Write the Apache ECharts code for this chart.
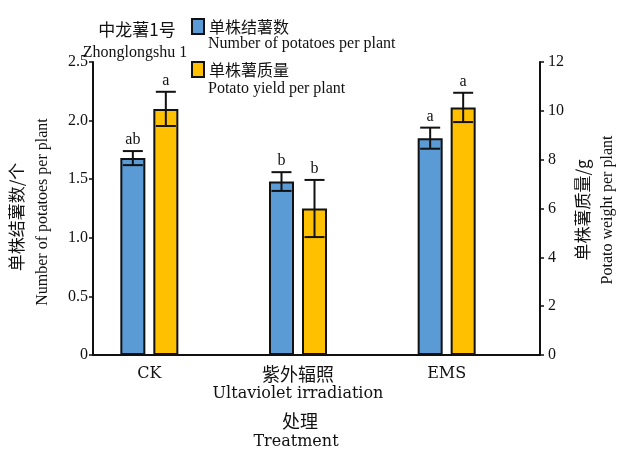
<!DOCTYPE html>
<html>
<head>
<meta charset="utf-8">
<style>
  html, body { margin: 0; padding: 0; background: #fff; }
  #chart { width: 630px; height: 452px; }
</style>
<script src="https://cdn.jsdelivr.net/npm/echarts@6/dist/echarts.min.js"></script>
</head>
<body>
<div id="chart"></div>
<script>
// Treatments on the x axis
const categories = ['CK', '紫外辐照', 'EMS'];
const categoryEnglish = ['', 'Ultaviolet irradiation', ''];

// Tubers per plant (left axis) with standard error and significance letters
const tuberCount = [1.68, 1.48, 1.85];
const tuberCountErr = [0.06, 0.08, 0.09];
const tuberCountSig = ['ab', 'b', 'a'];

// Tuber weight per plant, g (right axis) with standard error and significance letters
const tuberWeight = [10.08, 6.0, 10.14];
const tuberWeightErr = [0.7, 1.17, 0.6];
const tuberWeightSig = ['a', 'b', 'a'];

// Axis ranges
const leftAxis = { min: 0, max: 2.5, interval: 0.5 };
const rightAxis = { min: 0, max: 12, interval: 2 };

const SERIF = "'Liberation Serif', 'Noto Sans CJK SC', serif";
const CJK = "'Noto Sans CJK SC', sans-serif";
const WIDE_SERIF = "'DejaVu Serif', serif";
const INK = '#111';
const BAR_W = 25, BAR_GAP = 8;
const OFFSET = (BAR_W + BAR_GAP) / 2;

function errorSeries(name, values, errs, sig, yIdx, offset) {
  return {
    name: name + '-err',
    type: 'custom',
    xAxisIndex: 1,
    yAxisIndex: yIdx,
    silent: true,
    z: 5,
    data: values.map((v, i) => [i, v - errs[i], v + errs[i]]),
    renderItem: function (params, api) {
      const i = api.value(0);
      const top = api.coord([i, api.value(2)]);
      const bot = api.coord([i, api.value(1)]);
      const x = top[0] + offset;
      const cap = 10;
      const ls = { stroke: INK, lineWidth: 2 };
      return {
        type: 'group',
        children: [
          { type: 'line', shape: { x1: x, y1: top[1], x2: x, y2: bot[1] }, style: ls },
          { type: 'line', shape: { x1: x - cap, y1: top[1], x2: x + cap, y2: top[1] }, style: ls },
          { type: 'line', shape: { x1: x - cap, y1: bot[1], x2: x + cap, y2: bot[1] }, style: ls },
          {
            type: 'text', x: x, y: top[1] - 11,
            style: {
              text: sig[i], fill: INK, font: '16px ' + SERIF,
              align: 'center', verticalAlign: 'middle',
              textAlign: 'center', textVerticalAlign: 'middle'
            }
          }
        ]
      };
    }
  };
}

function textEl(text, x, y, size, family, align, rotate) {
  return {
    type: 'text', x: x, y: y, rotation: rotate ? Math.PI / 2 : 0, silent: true,
    style: {
      text: text, fill: INK, font: size + 'px ' + family,
      align: align, verticalAlign: 'middle',
      textAlign: align, textVerticalAlign: 'middle'
    }
  };
}

const chart = echarts.init(document.getElementById('chart'), null, { renderer: 'canvas' });

const axisLineStyle = { show: true, lineStyle: { color: INK, width: 2 } };

chart.setOption({
  animation: false,
  backgroundColor: '#fff',
  textStyle: { fontFamily: SERIF },
  grid: [
    // frame: axis lines and tick labels
    { left: 93, right: 90, top: 62, bottom: 97, containLabel: false },
    // bars: category bands centred on the treatment groups
    { left: 75, width: 446, top: 62, bottom: 97, containLabel: false }
  ],
  legend: {
    orient: 'vertical',
    left: 186,
    top: 13,
    icon: 'rect',
    itemWidth: 12,
    itemHeight: 15,
    itemGap: 26,
    selectedMode: false,
    data: ['单株结薯数', '单株薯质量'],
    textStyle: { fontSize: 16, color: INK, fontFamily: CJK }
  },
  xAxis: [
    {
      gridIndex: 0, type: 'category', data: [''],
      axisLine: axisLineStyle, axisTick: { show: false }, axisLabel: { show: false },
      splitLine: { show: false }
    },
    {
      gridIndex: 1, type: 'category', data: categories,
      axisLine: { show: false }, axisTick: { show: false },
      axisLabel: {
        interval: 0,
        hideOverlap: false,
        margin: 9,
        color: INK,
        formatter: function (v, i) {
          const en = categoryEnglish[i];
          if (/^[A-Za-z]+$/.test(v)) return '{l|' + v + '}';
          return '{c|' + v + '}' + (en ? '\n{e|' + en + '}' : '');
        },
        rich: {
          l: { fontSize: 16, fontFamily: WIDE_SERIF, color: INK, lineHeight: 20 },
          c: { fontSize: 18, fontFamily: CJK, color: INK, lineHeight: 20 },
          e: { fontSize: 16, fontFamily: WIDE_SERIF, color: INK, lineHeight: 20 }
        }
      }
    }
  ],
  yAxis: [
    {
      gridIndex: 0, type: 'value', position: 'left',
      min: leftAxis.min, max: leftAxis.max, interval: leftAxis.interval,
      axisLine: axisLineStyle,
      axisTick: { show: true, length: 4, lineStyle: { color: INK, width: 1.5 } },
      axisLabel: {
        margin: 5, color: INK, fontSize: 16, fontFamily: SERIF,
        formatter: v => (v === 0 ? '0' : v.toFixed(1))
      },
      splitLine: { show: false }
    },
    {
      gridIndex: 0, type: 'value', position: 'right',
      min: rightAxis.min, max: rightAxis.max, interval: rightAxis.interval,
      axisLine: axisLineStyle,
      axisTick: { show: true, length: 4, lineStyle: { color: INK, width: 1.5 } },
      axisLabel: { margin: 8, color: INK, fontSize: 16, fontFamily: SERIF },
      splitLine: { show: false }
    },
    {
      gridIndex: 1, type: 'value', show: false,
      min: leftAxis.min, max: leftAxis.max, splitLine: { show: false }
    },
    {
      gridIndex: 1, type: 'value', show: false,
      min: rightAxis.min, max: rightAxis.max, splitLine: { show: false }
    }
  ],
  series: [
    {
      name: '单株结薯数', type: 'bar', xAxisIndex: 1, yAxisIndex: 2,
      barWidth: BAR_W, barGap: (BAR_GAP / BAR_W * 100) + '%',
      itemStyle: { color: '#5B9BD5', borderColor: INK, borderWidth: 2 },
      data: tuberCount
    },
    {
      name: '单株薯质量', type: 'bar', xAxisIndex: 1, yAxisIndex: 3,
      barWidth: BAR_W, barGap: (BAR_GAP / BAR_W * 100) + '%',
      itemStyle: { color: '#FFC000', borderColor: INK, borderWidth: 2 },
      data: tuberWeight
    },
    errorSeries('单株结薯数', tuberCount, tuberCountErr, tuberCountSig, 2, -OFFSET),
    errorSeries('单株薯质量', tuberWeight, tuberWeightErr, tuberWeightSig, 3, OFFSET)
  ],
  graphic: [
    // variety name
    textEl('中龙薯1号', 137, 30, 17, CJK, 'center', false),
    textEl('Zhonglongshu 1', 135, 53, 16, SERIF, 'center', false),
    // legend subtitles
    textEl('Number of potatoes per plant', 208, 44, 16, SERIF, 'left', false),
    textEl('Potato yield per plant', 208, 89, 16, SERIF, 'left', false),
    // left axis title
    textEl('单株结薯数/个', 17, 217, 17, CJK, 'center', true),
    textEl('Number of potatoes per plant', 43, 212, 16, SERIF, 'center', true),
    // right axis title
    textEl('单株薯质量/g', 583, 210, 17, CJK, 'center', true),
    textEl('Potato weight per plant', 608, 210, 16, SERIF, 'center', true),
    // x axis title
    textEl('处理', 300, 421, 18, CJK, 'center', false),
    textEl('Treatment', 296, 442, 16, WIDE_SERIF, 'center', false)
  ]
});
</script>
</body>
</html>
